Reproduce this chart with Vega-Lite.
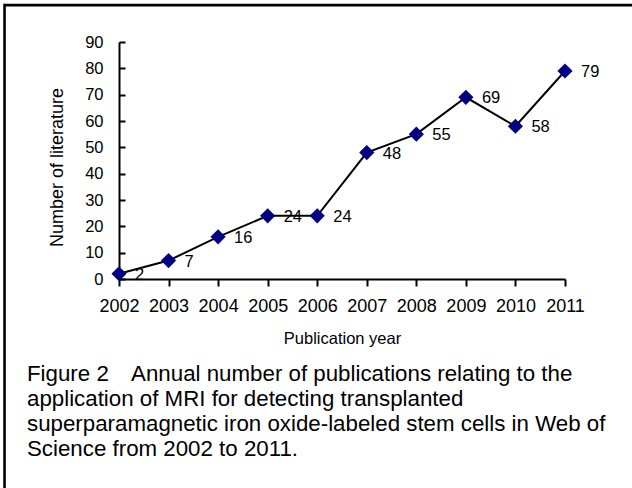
{
  "$schema": "https://vega.github.io/schema/vega-lite/v6.json",
  "width": 446,
  "height": 237,
  "autosize": "none",
  "padding": {"left": 119, "top": 42, "right": 67, "bottom": 209},
  "background": "white",
  "config": {"view": {"stroke": null}, "font": "Liberation Sans"},
  "title": {
    "text": [
      "Figure 2\u2003Annual number of publications relating to the",
      "application of MRI for detecting transplanted",
      "superparamagnetic iron oxide-labeled stem cells in Web of",
      "Science from 2002 to 2011."
    ],
    "orient": "bottom",
    "anchor": "start",
    "frame": "group",
    "dx": -92,
    "offset": -128,
    "font": "Liberation Sans",
    "fontSize": 22.3,
    "fontWeight": "normal",
    "color": "black",
    "lineHeight": 25,
    "baseline": "top"
  },
  "data": {
    "values": [
      {"year": 2002, "count": 2},
      {"year": 2003, "count": 7},
      {"year": 2004, "count": 16},
      {"year": 2005, "count": 24},
      {"year": 2006, "count": 24},
      {"year": 2007, "count": 48},
      {"year": 2008, "count": 55},
      {"year": 2009, "count": 69},
      {"year": 2010, "count": 58},
      {"year": 2011, "count": 79}
    ]
  },
  "resolve": {"axis": {"x": "independent", "y": "independent"}},
  "layer": [
    {
      "data": {"values": [{}]},
      "mark": {"type": "rule", "color": "black", "strokeWidth": 2.6, "clip": false},
      "encoding": {
        "x": {"datum": 1999.69, "type": "quantitative", "axis": null},
        "x2": {"datum": 2012.5},
        "y": {"datum": 104.0, "type": "quantitative", "axis": null}
      }
    },
    {
      "data": {"values": [{}]},
      "mark": {"type": "rule", "color": "black", "strokeWidth": 2.6, "clip": false},
      "encoding": {
        "x": {"datum": 1999.69, "type": "quantitative", "axis": null},
        "y": {"datum": 104.5, "type": "quantitative", "axis": null},
        "y2": {"datum": -80}
      }
    },
    {
      "encoding": {
        "x": {
          "field": "year",
          "type": "quantitative",
          "scale": {"domain": [2002, 2011], "nice": false, "zero": false},
          "axis": {
            "title": "Publication year",
            "values": [2002, 2003, 2004, 2005, 2006, 2007, 2008, 2009, 2010, 2011],
            "format": "d",
            "grid": false,
            "labelFont": "Liberation Sans",
            "labelFontSize": 18,
            "labelColor": "black",
            "labelPadding": 11,
            "labelFlush": false,
            "labelOverlap": false,
            "titleFont": "Liberation Sans",
            "titleFontSize": 16.5,
            "titleFontWeight": "normal",
            "titleColor": "black",
            "titlePadding": 15,
            "domainColor": "black",
            "domainWidth": 2,
            "tickColor": "black",
            "tickWidth": 2,
            "tickSize": 7
          }
        },
        "y": {
          "field": "count",
          "type": "quantitative",
          "scale": {"domain": [0, 90], "nice": false, "zero": true},
          "axis": {
            "title": "Number of literature",
            "values": [0, 10, 20, 30, 40, 50, 60, 70, 80, 90],
            "grid": false,
            "labelFont": "Liberation Sans",
            "labelFontSize": 16.5,
            "labelColor": "black",
            "labelPadding": 22,
            "labelFlush": false,
            "labelOverlap": false,
            "titleFont": "Liberation Sans",
            "titleFontSize": 18,
            "titleFontWeight": "normal",
            "titleColor": "black",
            "titlePadding": 18,
            "titleY": 125,
            "domainColor": "black",
            "domainWidth": 2,
            "tickColor": "black",
            "tickWidth": 2,
            "tickSize": -6
          }
        }
      },
      "layer": [
        {
          "mark": {"type": "line", "color": "black", "strokeWidth": 2}
        },
        {
          "mark": {"type": "point", "shape": "diamond", "size": 230, "filled": true, "color": "#000080", "opacity": 1}
        },
        {
          "mark": {"type": "text", "align": "left", "baseline": "middle", "dx": 16, "dy": 1, "fontSize": 16.5, "font": "Liberation Sans", "color": "black"},
          "encoding": {"text": {"field": "count", "type": "quantitative"}}
        }
      ]
    }
  ]
}
